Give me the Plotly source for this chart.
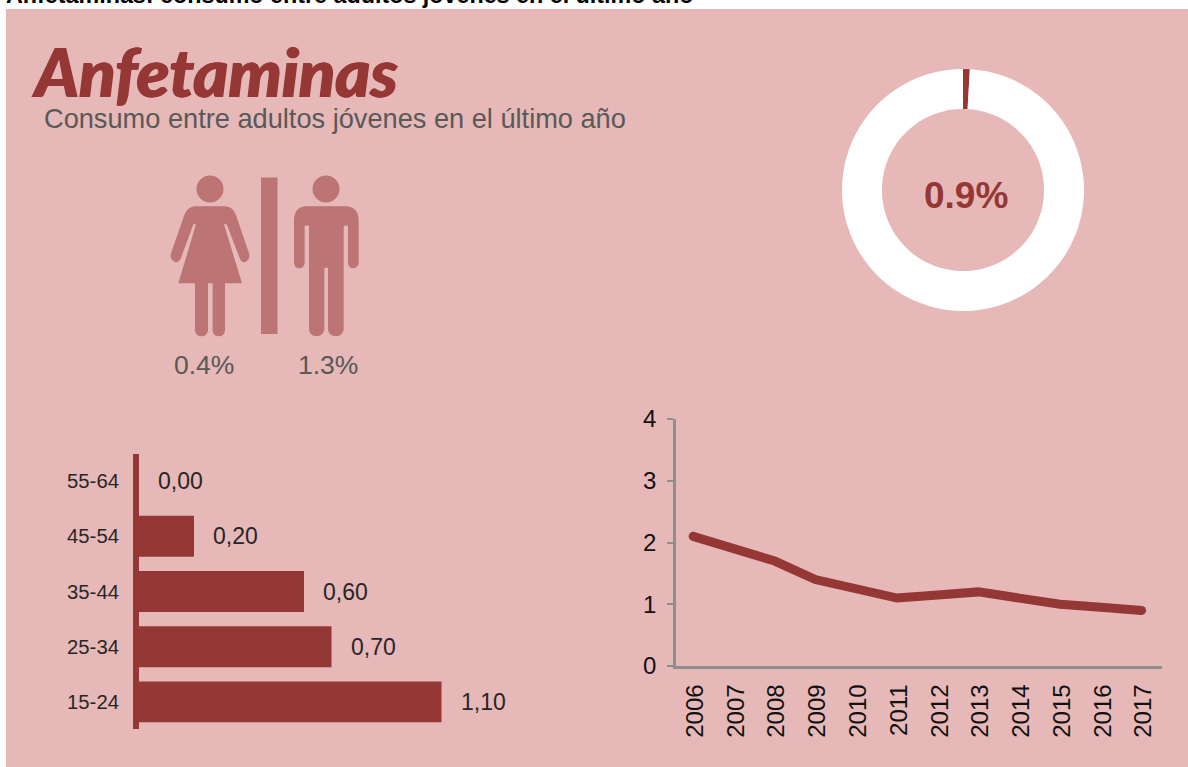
import plotly.graph_objects as go

W, H = 1188, 767

age_groups = ["15-24", "25-34", "35-44", "45-54", "55-64"]
age_values = [1.10, 0.70, 0.60, 0.20, 0.00]
age_labels = ["1,10", "0,70", "0,60", "0,20", "0,00"]

years = ["2006", "2007", "2008", "2009", "2010", "2011", "2012", "2013", "2014", "2015", "2016", "2017"]
trend = [2.1, 1.9, 1.7, 1.4, 1.25, 1.1, 1.15, 1.2, 1.1, 1.0, 0.95, 0.9]

donut_values = [0.9, 99.1]
donut_label = "0.9%"
female_label = "0.4%"
male_label = "1.3%"

PINK = "#E6B8B7"
DARK = "#953735"
ICON = "#BC7475"
GREY = "#595959"
AXIS = "#8C8F8E"
SANS = "Liberation Sans"


def fx(px):
    return px / W


def fy(py):
    return 1 - py / H


def z(zx, zy):
    # icon crop coordinates to paper coordinates
    return f"{fx(150 + zx / 3):.5f},{fy(165 + zy / 3):.5f}"


def path(*items):
    out = []
    for it in items:
        cmd = it[0]
        pts = it[1:]
        out.append(cmd + " ".join(z(*p) for p in pts))
    return " ".join(out) + " Z"


female = path(
    ("M", (135, 124)), ("L", (225, 124)), ("Q", (250, 126), (258, 150)),
    ("L", (298, 268)), ("Q", (300, 285), (285, 292)), ("Q", (275, 292), (270, 282)),
    ("L", (230, 178)), ("L", (222, 178)), ("L", (276, 355)), ("L", (225, 355)),
    ("L", (225, 497)), ("Q", (222, 514), (207, 514)), ("Q", (190, 514), (188, 497)),
    ("L", (188, 355)), ("L", (174, 355)), ("L", (174, 497)), ("Q", (170, 514), (155, 514)),
    ("Q", (138, 514), (135, 497)), ("L", (135, 355)), ("L", (85, 355)), ("L", (138, 178)),
    ("L", (130, 178)), ("L", (92, 282)), ("Q", (85, 292), (76, 292)), ("Q", (60, 285), (62, 268)),
    ("L", (103, 150)), ("Q", (112, 126), (135, 124)),
)
male = path(
    ("M", (465, 124)), ("L", (590, 124)), ("Q", (625, 128), (626, 165)),
    ("L", (626, 295)), ("Q", (622, 310), (610, 310)), ("Q", (596, 310), (594, 295)),
    ("L", (594, 182)), ("L", (581, 182)), ("L", (581, 493)), ("Q", (578, 514), (558, 514)),
    ("Q", (536, 514), (534, 493)), ("L", (534, 308)), ("L", (523, 308)), ("L", (523, 493)),
    ("Q", (520, 514), (500, 514)), ("Q", (479, 514), (477, 493)), ("L", (477, 182)),
    ("L", (464, 182)), ("L", (464, 295)), ("Q", (462, 310), (448, 310)), ("Q", (434, 310), (432, 295)),
    ("L", (432, 165)), ("Q", (433, 128), (465, 124)),
)

fig = go.Figure()

fig.add_trace(go.Bar(
    x=age_values, y=age_groups, orientation="h", marker=dict(color=DARK, line_width=0),
    xaxis="x", yaxis="y", showlegend=False, hoverinfo="skip",
))
end_caps = [9 if i in (0, len(trend) - 1) else 0 for i in range(len(trend))]
fig.add_trace(go.Scatter(
    x=years, y=trend, mode="lines+markers", line=dict(color=DARK, width=9),
    marker=dict(color=DARK, size=end_caps, line_width=0, opacity=1),
    xaxis="x2", yaxis="y2", showlegend=False, hoverinfo="skip",
))
fig.add_trace(go.Pie(
    values=donut_values, hole=0.67, sort=False, direction="clockwise", rotation=0,
    marker=dict(colors=[DARK, "#FFFFFF"], line_width=0), textinfo="none", showlegend=False,
    domain=dict(x=[fx(842), fx(1084)], y=[fy(311), fy(69)]), hoverinfo="skip",
))

shapes = [
    dict(type="rect", xref="paper", yref="paper", x0=fx(6), x1=1, y0=0, y1=fy(9),
         fillcolor=PINK, line_width=0, layer="below"),
    dict(type="circle", xref="paper", yref="paper", x0=fx(196.5), x1=fx(223.5), y0=fy(202.5), y1=fy(175.5),
         fillcolor=ICON, line_width=0, layer="below"),
    dict(type="circle", xref="paper", yref="paper", x0=fx(312.5), x1=fx(339.5), y0=fy(202.5), y1=fy(175.5),
         fillcolor=ICON, line_width=0, layer="below"),
    dict(type="rect", xref="paper", yref="paper", x0=fx(261), x1=fx(277.5), y0=fy(334), y1=fy(177.5),
         fillcolor=ICON, line_width=0, layer="below"),
    dict(type="path", xref="paper", yref="paper", path=female, fillcolor=ICON, line_width=0, layer="below"),
    dict(type="path", xref="paper", yref="paper", path=male, fillcolor=ICON, line_width=0, layer="below"),
]

annotations = [
    dict(text="<b>Anfetaminas: consumo entre adultos jóvenes en el último año</b>", x=fx(6), y=fy(-5),
         xanchor="left", yanchor="middle", font=dict(family=SANS, size=23.3, color="#000000")),
    dict(text="<i>Anfetaminas</i>", x=fx(32), y=fy(71), xanchor="left", yanchor="middle",
         font=dict(family="Lato", size=67, weight=900, color=DARK, shadow=f"0.8px 0 0 {DARK}, -0.8px 0 0 {DARK}")),
    dict(text="Consumo entre adultos jóvenes en el último año", x=fx(44), y=fy(119), xanchor="left", yanchor="middle",
         font=dict(family=SANS, size=27.2, color=GREY)),
    dict(text=female_label, x=fx(203.5), y=fy(365), xanchor="center", yanchor="middle",
         font=dict(family=SANS, size=26.5, color=GREY)),
    dict(text=male_label, x=fx(328), y=fy(365), xanchor="center", yanchor="middle",
         font=dict(family=SANS, size=26.5, color=GREY)),
    dict(text=f"<b>{donut_label}</b>", x=fx(966), y=fy(195), xanchor="center", yanchor="middle",
         font=dict(family=SANS, size=37, color=DARK)),
]
for a in annotations:
    a.update(xref="paper", yref="paper", showarrow=False, borderpad=0, borderwidth=0)

for val, cat, lab in zip(age_values, age_groups, age_labels):
    annotations.append(dict(
        text=lab, x=val, y=cat, xref="x", yref="y", xanchor="left", yanchor="middle",
        xshift=17, showarrow=False, font=dict(family=SANS, size=23, color="#262626"),
    ))

fig.update_layout(
    width=W, height=H, autosize=False,
    margin=dict(l=0, r=0, t=0, b=0, pad=0, autoexpand=False),
    paper_bgcolor="#FFFFFF", plot_bgcolor="rgba(0,0,0,0)",
    showlegend=False, bargap=0.26,
    shapes=shapes, annotations=annotations,
    xaxis=dict(domain=[fx(139), fx(469)], range=[0, 1.2], visible=False, fixedrange=True, automargin=False),
    yaxis=dict(domain=[fy(729), fy(454)], range=[-0.49, 4.49], type="category", categoryorder="array",
               categoryarray=age_groups, showgrid=False, zeroline=False, showline=True, automargin=False,
               linecolor=DARK, linewidth=6, ticks="", ticklabelstandoff=10,
               tickfont=dict(family=SANS, size=20.3, color="#262626"), anchor="x"),
    xaxis2=dict(domain=[fx(676), fx(1162)], range=[-0.42, 11.5], type="category", categoryorder="array",
                categoryarray=years, showgrid=False, zeroline=False, showline=True, linecolor=AXIS, automargin=False,
                linewidth=2.5, ticks="", tickangle=-90, ticklabelstandoff=6, ticklabelshift=2,
                tickfont=dict(family=SANS, size=24, color="#111111"), anchor="y2"),
    yaxis2=dict(domain=[fy(666), fy(419)], range=[0, 4], tickvals=[0, 1, 2, 3, 4], showgrid=False, automargin=False,
                zeroline=False, showline=True, linecolor=AXIS, linewidth=2.5, ticks="outside", ticklen=6,
                tickwidth=2, tickcolor=AXIS, ticklabelstandoff=6,
                tickfont=dict(family=SANS, size=24, color="#111111"), anchor="x2"),
)

fig.write_html("out.html", config=dict(displayModeBar=False),
               post_script="document.body.style.margin='0';document.body.style.overflow='hidden';")
